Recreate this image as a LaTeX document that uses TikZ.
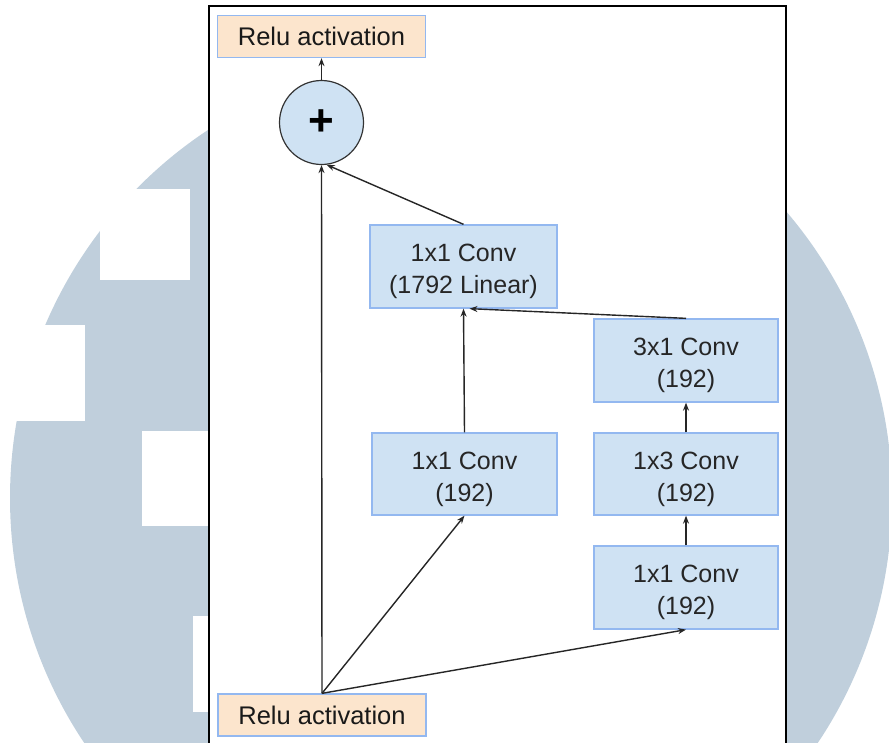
\documentclass[tikz,border=0pt]{standalone}
\usepackage{fontspec}
\setmainfont{Liberation Sans}
\usetikzlibrary{arrows.meta}
\definecolor{wmblue}{HTML}{C0CFDC}
\definecolor{boxblue}{HTML}{CFE2F3}
\definecolor{boxedge}{HTML}{93B8F0}
\definecolor{reluorange}{HTML}{FCE5CD}
% strut that lowers two-line box labels a little
\newcommand{\toplift}{\rule{0pt}{28pt}}
\tikzset{
  convbox/.style={draw=boxedge, fill=boxblue, line width=1.3pt, inner sep=0pt,
    minimum width=184pt, minimum height=83pt, align=center,
    font=\fontsize{25}{32}\selectfont, text=black!85},
  relubox/.style={draw=boxedge, fill=reluorange, line width=1.3pt, inner sep=0pt,
    minimum width=208pt, minimum height=42pt,
    font=\fontsize{25.5}{30}\selectfont, text=black!90},
  sumnode/.style={circle, draw=black!80, fill=boxblue, line width=1.2pt,
    minimum size=84pt, inner sep=0pt},
  flow/.style={draw=black!85, line width=1.4pt, -{Stealth[length=8pt,width=6pt]}}
}
\begin{document}
\begin{tikzpicture}[x=1pt, y=-1pt]
  \useasboundingbox (0,0) rectangle (889,742);
  % watermark disc with white notches
  \fill[wmblue] (451,498) circle (441);
  \fill[white] (100,189) rectangle (190,280);
  \fill[white] (-1,325) rectangle (85,421);
  \fill[white] (142,431) rectangle (208,526);
  \fill[white] (193,616) rectangle (208,712);
  % panel
  \fill[white] (209,6) rectangle (786,745);
  \draw[black, line width=2pt] (209,760) -- (209,6) -- (786,6) -- (786,760);

  % nodes
  \node[relubox] (relutop) at (321.5,36.5) {Relu activation};
  \node[sumnode] (plus) at (321.5,122.5) {\fontsize{44}{44}\selectfont\bfseries +};
  \node[convbox, minimum width=187pt] (lin) at (463.5,266.5) {\toplift 1x1 Conv\\(1792 Linear)};
  \node[convbox] (c31) at (686,360.5) {\toplift 3x1 Conv\\(192)};
  \node[convbox, minimum height=82pt] (c13) at (686,474) {\toplift 1x3 Conv\\(192)};
  \node[convbox] (c11r) at (686,587.5) {\toplift 1x1 Conv\\(192)};
  \node[convbox, minimum width=185pt, minimum height=82pt] (c11m) at (464.5,474) {\toplift 1x1 Conv\\(192)};
  \node[relubox] (relubot) at (322,715) {Relu activation};

  % connectors
  \draw[flow] (plus.north) -- (relutop.south);
  \draw[flow] (relubot.north) -- (plus.south);
  \draw[flow] (lin.north) -- (plus.-83);
  \draw[flow] (c11m.north) -- (lin.south);
  \draw[flow] (c31.north) -- ([xshift=6pt]lin.south);
  \draw[flow] (c13.north) -- (c31.south);
  \draw[flow] (c11r.north) -- (c13.south);
  \draw[flow] (relubot.north) -- (c11m.south);
  \draw[flow] (relubot.north) -- (c11r.south);
\end{tikzpicture}
\end{document}
